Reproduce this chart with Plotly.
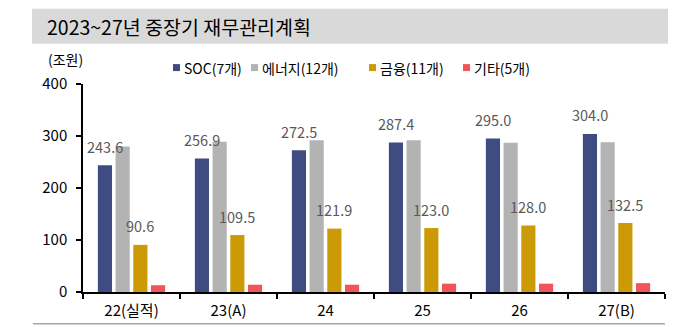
import plotly.graph_objects as go

categories = ["22(실적)", "23(A)", "24", "25", "26", "27(B)"]
soc = [243.6, 256.9, 272.5, 287.4, 295.0, 304.0]
energy = [280, 289, 292, 292, 287, 288]
finance = [90.6, 109.5, 121.9, 123.0, 128.0, 132.5]
other = [13, 14, 14, 16, 16, 17]
series_names = ["SOC(7개)", "에너지(12개)", "금융(11개)", "기타(5개)"]
colors = ["#3F4C82", "#B3B3B3", "#CC9A06", "#F2545B"]
title_text = "2023~27년 중장기 재무관리계획"
unit_text = "(조원)"

W, H = 696, 327
L, R, T, B = 83, 31, 83.5, 34.5
PW, PH = W - L - R, H - T - B
FONT = "Noto Sans CJK KR, Noto Sans, sans-serif"


def px(x):
    return (x - L) / PW


def py(y):
    return (H - B - y) / PH


fig = go.Figure()
for name, vals, col in zip(series_names, [soc, energy, finance, other], colors):
    fig.add_trace(go.Bar(x=categories, y=vals, name=name, marker_color=col,
                         marker_line_width=0, showlegend=False))

annotations = []
# value labels for SOC and 금융 (x given as category index)
for vals, xs in [(soc, -26.5), (finance, 8.8)]:
    for i, v in enumerate(vals):
        annotations.append(dict(x=i, y=v, xref="x", yref="y", text=f"{v:.1f}",
                                showarrow=False, xshift=xs, yshift=19,
                                font=dict(size=14.5, color="#595959", family=FONT),
                                xanchor="center", yanchor="middle"))

# title
annotations.append(dict(x=px(45), y=py(25.5), xref="paper", yref="paper", text=title_text,
                        showarrow=False, xanchor="left", yanchor="middle",
                        font=dict(size=19.5, color="#000000", family=FONT)))
# unit
annotations.append(dict(x=px(46), y=py(58), xref="paper", yref="paper", text=unit_text,
                        showarrow=False, xanchor="left", yanchor="middle",
                        font=dict(size=14, color="#000000", family=FONT)))

shapes = [
    dict(type="rect", xref="paper", yref="paper", x0=px(32), x1=px(668), y0=py(8), y1=py(43),
         fillcolor="#D9D9D9", line_width=0, layer="below"),
    dict(type="line", xref="paper", yref="paper", x0=px(33), x1=px(665), y0=py(324.5), y1=py(324.5),
         line=dict(color="#A6A6A6", width=1.5)),
]

# legend
sq_x = [173, 251, 369, 463]
for name, col, sx in zip(series_names, colors, sq_x):
    shapes.append(dict(type="rect", xref="paper", yref="paper", x0=px(sx), x1=px(sx + 7),
                       y0=py(63.5), y1=py(70.5), fillcolor=col, line_width=0))
    annotations.append(dict(x=px(sx + 9), y=py(67), xref="paper", yref="paper", text=name,
                            showarrow=False, xanchor="left", yanchor="middle",
                            font=dict(size=14, color="#000000", family=FONT)))

fig.update_layout(
    width=W, height=H,
    margin=dict(l=L, r=R, t=T, b=B, pad=0),
    paper_bgcolor="white", plot_bgcolor="white",
    barmode="group", bargap=0.27, bargroupgap=0.2,
    font=dict(family=FONT, color="#000000"),
    annotations=annotations, shapes=shapes,
    xaxis=dict(type="category", range=[-0.5, len(categories) - 0.5], automargin=False,
               showline=True, linecolor="#000000", linewidth=2, tickangle=0,
               ticks="outside", tickson="boundaries", ticklen=5, tickcolor="#000000", tickwidth=2,
               ticklabelstandoff=4,
               tickfont=dict(size=15, color="#000000", family=FONT), showgrid=False, zeroline=False),
    yaxis=dict(range=[0, 400], tickvals=[0, 100, 200, 300, 400], showline=True, automargin=False,
               linecolor="#000000", linewidth=1.5, ticks="outside", ticklen=5,
               tickcolor="#000000", tickwidth=1.5, ticklabelstandoff=6,
               tickfont=dict(size=15, color="#000000", family=FONT), showgrid=False, zeroline=False),
)

fig.write_html("out.html")
